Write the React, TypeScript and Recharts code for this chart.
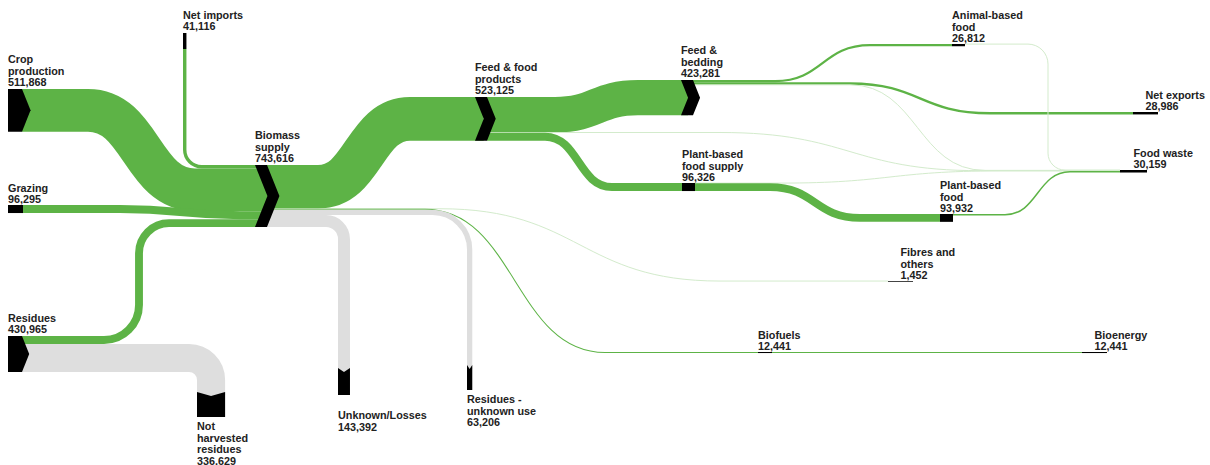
import React from 'react';
import { Sankey } from 'recharts';

// nodes and flows (thousand tonnes dry matter)
const nodeNames = [
  'Crop production',
  'Grazing',
  'Residues',
  'Net imports',
  'Biomass supply',
  'Not harvested residues',
  'Feed & food products',
  'Unknown/Losses',
  'Residues - unknown use',
  'Fibres and others',
  'Biofuels',
  'Feed & bedding',
  'Plant-based food supply',
  'Bioenergy',
  'Animal-based food',
  'Net exports',
  'Plant-based food',
  'Food waste',
];

const flowFrom = [
  'Net imports',
  'Crop production',
  'Grazing',
  'Residues',
  'Residues',
  'Biomass supply',
  'Biomass supply',
  'Biomass supply',
  'Biomass supply',
  'Biomass supply',
  'Feed & food products',
  'Feed & bedding',
  'Feed & bedding',
  'Animal-based food',
  'Feed & bedding',
  'Feed & food products',
  'Feed & food products',
  'Plant-based food supply',
  'Plant-based food supply',
  'Plant-based food',
  'Biofuels',
];

const flowTo = [
  'Biomass supply',
  'Biomass supply',
  'Biomass supply',
  'Biomass supply',
  'Not harvested residues',
  'Feed & food products',
  'Fibres and others',
  'Biofuels',
  'Residues - unknown use',
  'Unknown/Losses',
  'Feed & bedding',
  'Animal-based food',
  'Net exports',
  'Food waste',
  'Food waste',
  'Food waste',
  'Plant-based food supply',
  'Food waste',
  'Plant-based food',
  'Food waste',
  'Bioenergy',
];

const flowValues = [
  41116, 511868, 96295, 94336, 336629, 523125, 1452, 12441, 63206, 143392, 423281, 26812, 28986, 2500, 3700,
  3518, 96326, 2394, 93932, 18047, 12441,
];

const data = {
  nodes: nodeNames.map((name) => ({ name })),
  links: flowFrom.map((s, i) => ({
    source: nodeNames.indexOf(s),
    target: nodeNames.indexOf(flowTo[i]),
    value: flowValues[i],
  })),
};

// stacking of flows on each node, in value units, following the list order
const outOffset: Record<string, number> = {};
const inOffset: Record<string, number> = {};
{
  const outSum: Record<string, number> = {};
  const inSum: Record<string, number> = {};
  flowFrom.forEach((s, i) => {
    const t = flowTo[i];
    const key = s + '>' + t;
    outOffset[key] = outSum[s] || 0;
    inOffset[key] = inSum[t] || 0;
    outSum[s] = (outSum[s] || 0) + flowValues[i];
    inSum[t] = (inSum[t] || 0) + flowValues[i];
  });
}

// hand placed layout, like the original report
type Shape = 'src' | 'mid' | 'bar' | 'end' | 'vsrc' | 'vsink';
const nodeLayout: Record<string, { x: number; y: number; shape: Shape; len?: number; labelDy?: number }> = {
  'Crop production': { x: 8, y: 89, shape: 'src' },
  Grazing: { x: 8, y: 205, shape: 'bar', len: 15 },
  Residues: { x: 8, y: 336, shape: 'src' },
  'Net imports': { x: 183, y: 33, shape: 'vsrc', len: 16 },
  'Biomass supply': { x: 255, y: 165, shape: 'mid' },
  'Not harvested residues': { x: 197, y: 392, shape: 'vsink', len: 25 },
  'Feed & food products': { x: 475, y: 97, shape: 'mid' },
  'Unknown/Losses': { x: 338, y: 368, shape: 'vsink', len: 27, labelDy: 11 },
  'Residues - unknown use': { x: 467, y: 365, shape: 'vsink', len: 25 },
  'Fibres and others': { x: 888, y: 281, shape: 'end', len: 25 },
  Biofuels: { x: 758, y: 352, shape: 'bar', len: 14 },
  'Feed & bedding': { x: 681, y: 80, shape: 'mid' },
  'Plant-based food supply': { x: 682, y: 183, shape: 'bar', len: 13 },
  Bioenergy: { x: 1082, y: 352, shape: 'end', len: 25 },
  'Animal-based food': { x: 952, y: 44, shape: 'bar', len: 13 },
  'Net exports': { x: 1133, y: 112, shape: 'end', len: 25 },
  'Plant-based food': { x: 940, y: 214, shape: 'bar', len: 13 },
  'Food waste': { x: 1120, y: 170, shape: 'end', len: 27 },
};

type Route =
  | { kind: 's'; a: number; b: number }
  | { kind: 'down'; r: number }
  | { kind: 'vright'; r: number }
  | { kind: 'upright'; vx: number; r1: number; r2: number }
  | { kind: 'dropright'; vx: number; r1: number; r2: number }
  | { kind: 'line' };

const routes: Record<string, Route> = {
  'Net imports>Biomass supply': { kind: 'vright', r: 17 },
  'Crop production>Biomass supply': { kind: 's', a: 88, b: 195 },
  'Grazing>Biomass supply': { kind: 's', a: 120, b: 240 },
  'Residues>Biomass supply': { kind: 'upright', vx: 139, r1: 35, r2: 30 },
  'Residues>Not harvested residues': { kind: 'down', r: 22 },
  'Biomass supply>Feed & food products': { kind: 's', a: 318, b: 410 },
  'Biomass supply>Fibres and others': { kind: 's', a: 440, b: 720 },
  'Biomass supply>Biofuels': { kind: 's', a: 425, b: 605 },
  'Biomass supply>Residues - unknown use': { kind: 'down', r: 37 },
  'Biomass supply>Unknown/Losses': { kind: 'down', r: 18 },
  'Feed & food products>Feed & bedding': { kind: 's', a: 555, b: 638 },
  'Feed & bedding>Animal-based food': { kind: 's', a: 775, b: 870 },
  'Feed & bedding>Net exports': { kind: 's', a: 850, b: 990 },
  'Animal-based food>Food waste': { kind: 'dropright', vx: 1048, r1: 20, r2: 17 },
  'Feed & bedding>Food waste': { kind: 's', a: 850, b: 985 },
  'Feed & food products>Food waste': { kind: 's', a: 720, b: 980 },
  'Feed & food products>Plant-based food supply': { kind: 's', a: 545, b: 612 },
  'Plant-based food supply>Food waste': { kind: 's', a: 780, b: 1000 },
  'Plant-based food supply>Plant-based food': { kind: 's', a: 770, b: 860 },
  'Plant-based food>Food waste': { kind: 's', a: 1005, b: 1070 },
  'Biofuels>Bioenergy': { kind: 'line' },
};

const GREEN = '#5db346';
const PALE = '#d3ebcc';
const GREY = '#dedede';
const greyFlows = ['Residues>Not harvested residues', 'Biomass supply>Residues - unknown use', 'Biomass supply>Unknown/Losses'];
const paleFlows = [
  'Biomass supply>Fibres and others',
  'Animal-based food>Food waste',
  'Feed & bedding>Food waste',
  'Feed & food products>Food waste',
  'Plant-based food supply>Food waste',
];

const FONT = '"Liberation Sans", Arial, sans-serif';
const LINE = 11.5;

const wrap = (s: string, max = 12) => {
  const lines: string[] = [];
  let cur = '';
  s.split(' ').forEach((w) => {
    const next = cur ? cur + ' ' + w : w;
    if (next.length > max && cur) {
      lines.push(cur);
      cur = w;
    } else cur = next;
  });
  if (cur) lines.push(cur);
  return lines;
};

const fmt = (v: number) => v.toLocaleString('en-US');

const renderNode = (props: any) => {
  const { height, payload } = props;
  const name: string = payload.name;
  const lay = nodeLayout[name];
  if (!lay) return <g />;
  const { x, y, shape } = lay;
  const h = Math.max(height, 1);
  const len = lay.len || 0;
  const lines = [...wrap(name), fmt(payload.value)];
  let body: React.ReactNode;
  let lx = x;
  let firstBaseline = y - 3 - (lines.length - 1) * LINE;

  if (shape === 'src') {
    const tip = h * 0.2;
    body = <polygon points={`${x},${y} ${x + 14},${y} ${x + 14 + tip},${y + h / 2} ${x + 14},${y + h} ${x},${y + h}`} fill="#000" />;
  } else if (shape === 'mid') {
    const tip = h * 0.2;
    body = (
      <polygon
        points={`${x},${y} ${x + 12},${y} ${x + 12 + tip},${y + h / 2} ${x + 12},${y + h} ${x},${y + h} ${x + tip},${y + h / 2}`}
        fill="#000"
      />
    );
  } else if (shape === 'bar' || shape === 'end') {
    body = <rect x={x} y={y} width={len} height={h} fill={height < 1 ? '#444' : '#000'} />;
    firstBaseline = y - 2 - (lines.length - 1) * LINE;
    if (shape === 'end') lx = x + len / 2;
  } else if (shape === 'vsrc') {
    body = <rect x={x} y={y} width={h} height={len} fill="#000" />;
  } else {
    const n = 4;
    body = <polygon points={`${x},${y} ${x + h / 2},${y + n} ${x + h},${y} ${x + h},${y + len} ${x},${y + len}`} fill="#000" />;
    firstBaseline = y + len + 13 + (lay.labelDy || 0);
  }

  return (
    <g>
      {body}
      {lines.map((l, i) => (
        <text key={i} x={lx} y={firstBaseline + i * LINE} fontFamily={FONT} fontSize={10.8} fontWeight={700} fill="#222">
          {l}
        </text>
      ))}
    </g>
  );
};

const renderLink = (props: any) => {
  const { linkWidth, payload } = props;
  const src: string = payload.source.name;
  const tgt: string = payload.target.name;
  const key = src + '>' + tgt;
  const ky = linkWidth / payload.value;
  const sl = nodeLayout[src];
  const tl = nodeLayout[tgt];
  const w = linkWidth;
  const so = outOffset[key] * ky + w / 2;
  const to = inOffset[key] * ky + w / 2;

  let sx = 0;
  let sy = 0;
  if (sl.shape === 'src') {
    sx = sl.x + 14;
    sy = sl.y + so;
  } else if (sl.shape === 'mid') {
    sx = sl.x + 12;
    sy = sl.y + so;
  } else if (sl.shape === 'vsrc') {
    sx = sl.x + so;
    sy = sl.y + (sl.len || 0);
  } else {
    sx = sl.x + (sl.len || 0);
    sy = sl.y + so;
  }

  let tx = tl.x;
  let ty = tl.y + to;
  if (tl.shape === 'mid') {
    tx = tl.x + payload.target.value * ky * 0.2;
  } else if (tl.shape === 'vsink') {
    tx = tl.x + to;
    ty = tl.y + 4;
  }

  const r = routes[key];
  let d = `M${sx},${sy} L${tx},${ty}`;
  if (r.kind === 's') {
    const m = (r.a + r.b) / 2;
    d = `M${sx},${sy} H${r.a} C${m},${sy} ${m},${ty} ${r.b},${ty} H${tx}`;
  } else if (r.kind === 'down') {
    d = `M${sx},${sy} H${tx - r.r} A${r.r},${r.r} 0 0 1 ${tx},${sy + r.r} V${ty}`;
  } else if (r.kind === 'vright') {
    d = `M${sx},${sy} V${ty - r.r} A${r.r},${r.r} 0 0 0 ${sx + r.r},${ty} H${tx}`;
  } else if (r.kind === 'upright') {
    d = `M${sx},${sy} H${r.vx - r.r1} A${r.r1},${r.r1} 0 0 0 ${r.vx},${sy - r.r1} V${ty + r.r2} A${r.r2},${r.r2} 0 0 1 ${r.vx + r.r2},${ty} H${tx}`;
  } else if (r.kind === 'dropright') {
    d = `M${sx},${sy} H${r.vx - r.r1} A${r.r1},${r.r1} 0 0 1 ${r.vx},${sy + r.r1} V${ty - r.r2} A${r.r2},${r.r2} 0 0 0 ${r.vx + r.r2},${ty} H${tx}`;
  }

  const color = greyFlows.includes(key) ? GREY : paleFlows.includes(key) ? PALE : GREEN;
  return <path d={d} fill="none" stroke={color} strokeWidth={Math.max(w, 1)} />;
};

const App: React.FC = () => {
  return (
    <div style={{ position: 'absolute', left: 0, top: 0, width: 1210, height: 465, background: '#fff' }}>
      <Sankey
        width={1210}
        height={465}
        data={data}
        nodePadding={5}
        nodeWidth={10}
        iterations={0}
        margin={{ top: 0, right: 0, bottom: 359.8, left: 0 }}
        node={renderNode}
        link={renderLink}
      />
    </div>
  );
};

export default App;
